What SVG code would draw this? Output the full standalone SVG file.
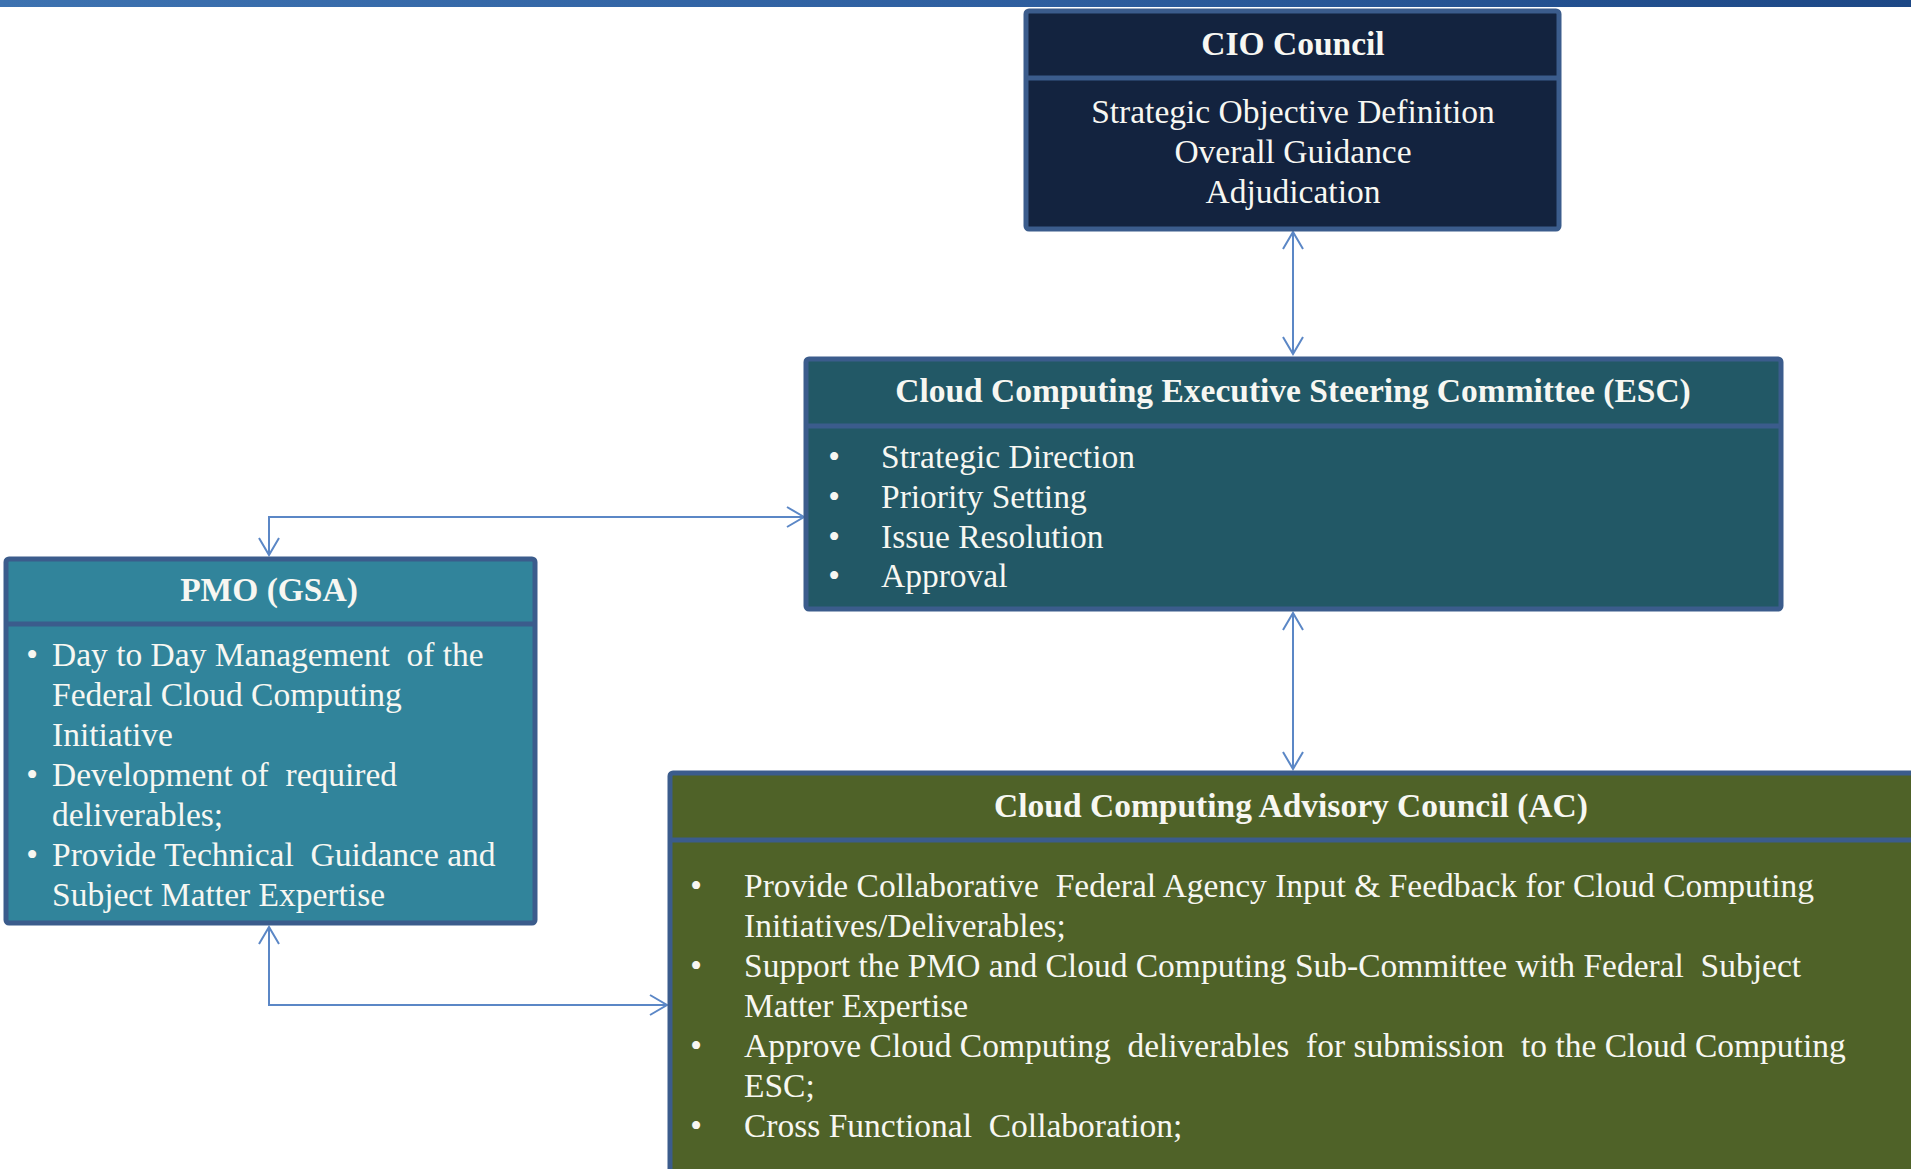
<svg xmlns="http://www.w3.org/2000/svg" width="1911" height="1169" viewBox="0 0 1911 1169">
<style>
.box{stroke:#3b5c8c;stroke-width:5}
.sep{stroke:#3b5c8c;stroke-width:5}
.t{font-family:"Liberation Serif","Times New Roman",serif;font-size:33.5px;fill:#f7f7f2}
.h{font-weight:bold;text-anchor:middle}
.c{text-anchor:middle}
.b{text-anchor:middle}
.conn{fill:none;stroke:#5b87c6;stroke-width:2;marker-start:url(#ah);marker-end:url(#ah)}
</style>
<defs>
<linearGradient id="bar" x1="0" y1="0" x2="1" y2="0">
<stop offset="0" stop-color="#3d72b0"/>
<stop offset="0.5" stop-color="#2f60a1"/>
<stop offset="1" stop-color="#1d4886"/>
</linearGradient>
<marker id="ah" markerUnits="userSpaceOnUse" markerWidth="22" markerHeight="24" refX="18" refY="11" orient="auto-start-reverse">
<path d="M1,1 L18,11 L1,21" fill="none" stroke="#5b87c6" stroke-width="2"/>
</marker>
</defs>
<rect x="0" y="0" width="1911" height="7" fill="url(#bar)"/>
<g id="connectors">
<path class="conn" d="M1293,232 V354"/>
<path class="conn" d="M1293,613 V769"/>
<path class="conn" d="M804,517 H269 V555"/>
<path class="conn" d="M269,927 V1005 H667"/>
</g>
<g id="cio">
<rect class="box" x="1026" y="11" width="533" height="218" rx="3" fill="#13233f"/>
<line class="sep" x1="1028" y1="78" x2="1557" y2="78"/>
<text class="t h" x="1293" y="55">CIO Council</text>
<text class="t c" x="1293" y="123">Strategic Objective Definition</text>
<text class="t c" x="1293" y="163">Overall Guidance</text>
<text class="t c" x="1293" y="203">Adjudication</text>
</g>
<g id="esc">
<rect class="box" x="806" y="359" width="975" height="250" rx="3" fill="#225866"/>
<line class="sep" x1="808" y1="426" x2="1779" y2="426"/>
<text class="t h" x="1293" y="402">Cloud Computing Executive Steering Committee (ESC)</text>
<text class="t b" x="834" y="468">•</text>
<text class="t" x="881" y="468">Strategic Direction</text>
<text class="t b" x="834" y="508">•</text>
<text class="t" x="881" y="508">Priority Setting</text>
<text class="t b" x="834" y="548">•</text>
<text class="t" x="881" y="548">Issue Resolution</text>
<text class="t b" x="834" y="587">•</text>
<text class="t" x="881" y="587">Approval</text>
</g>
<g id="pmo">
<rect class="box" x="6" y="559" width="529" height="364" rx="3" fill="#31849b"/>
<line class="sep" x1="8" y1="624" x2="533" y2="624"/>
<text class="t h" x="269" y="601">PMO (GSA)</text>
<text class="t b" x="32" y="666">•</text>
<text class="t" x="52" y="666" xml:space="preserve">Day to Day Management  of the</text>
<text class="t" x="52" y="706">Federal Cloud Computing</text>
<text class="t" x="52" y="746">Initiative</text>
<text class="t b" x="32" y="786">•</text>
<text class="t" x="52" y="786" xml:space="preserve">Development of  required</text>
<text class="t" x="52" y="826">deliverables;</text>
<text class="t b" x="32" y="866">•</text>
<text class="t" x="52" y="866" xml:space="preserve">Provide Technical  Guidance and</text>
<text class="t" x="52" y="906">Subject Matter Expertise</text>
</g>
<g id="ac">
<rect class="box" x="670" y="773" width="1262" height="420" rx="3" fill="#4f6228"/>
<line class="sep" x1="672" y1="840" x2="1930" y2="840"/>
<text class="t h" x="1291" y="817">Cloud Computing Advisory Council (AC)</text>
<text class="t b" x="696" y="897">•</text>
<text class="t" x="744" y="897" xml:space="preserve">Provide Collaborative  Federal Agency Input &amp; Feedback for Cloud Computing</text>
<text class="t" x="744" y="937">Initiatives/Deliverables;</text>
<text class="t b" x="696" y="977">•</text>
<text class="t" x="744" y="977" xml:space="preserve">Support the PMO and Cloud Computing Sub-Committee with Federal  Subject</text>
<text class="t" x="744" y="1017">Matter Expertise</text>
<text class="t b" x="696" y="1057">•</text>
<text class="t" x="744" y="1057" xml:space="preserve">Approve Cloud Computing  deliverables  for submission  to the Cloud Computing</text>
<text class="t" x="744" y="1097">ESC;</text>
<text class="t b" x="696" y="1137">•</text>
<text class="t" x="744" y="1137" xml:space="preserve">Cross Functional  Collaboration;</text>
</g>
</svg>
